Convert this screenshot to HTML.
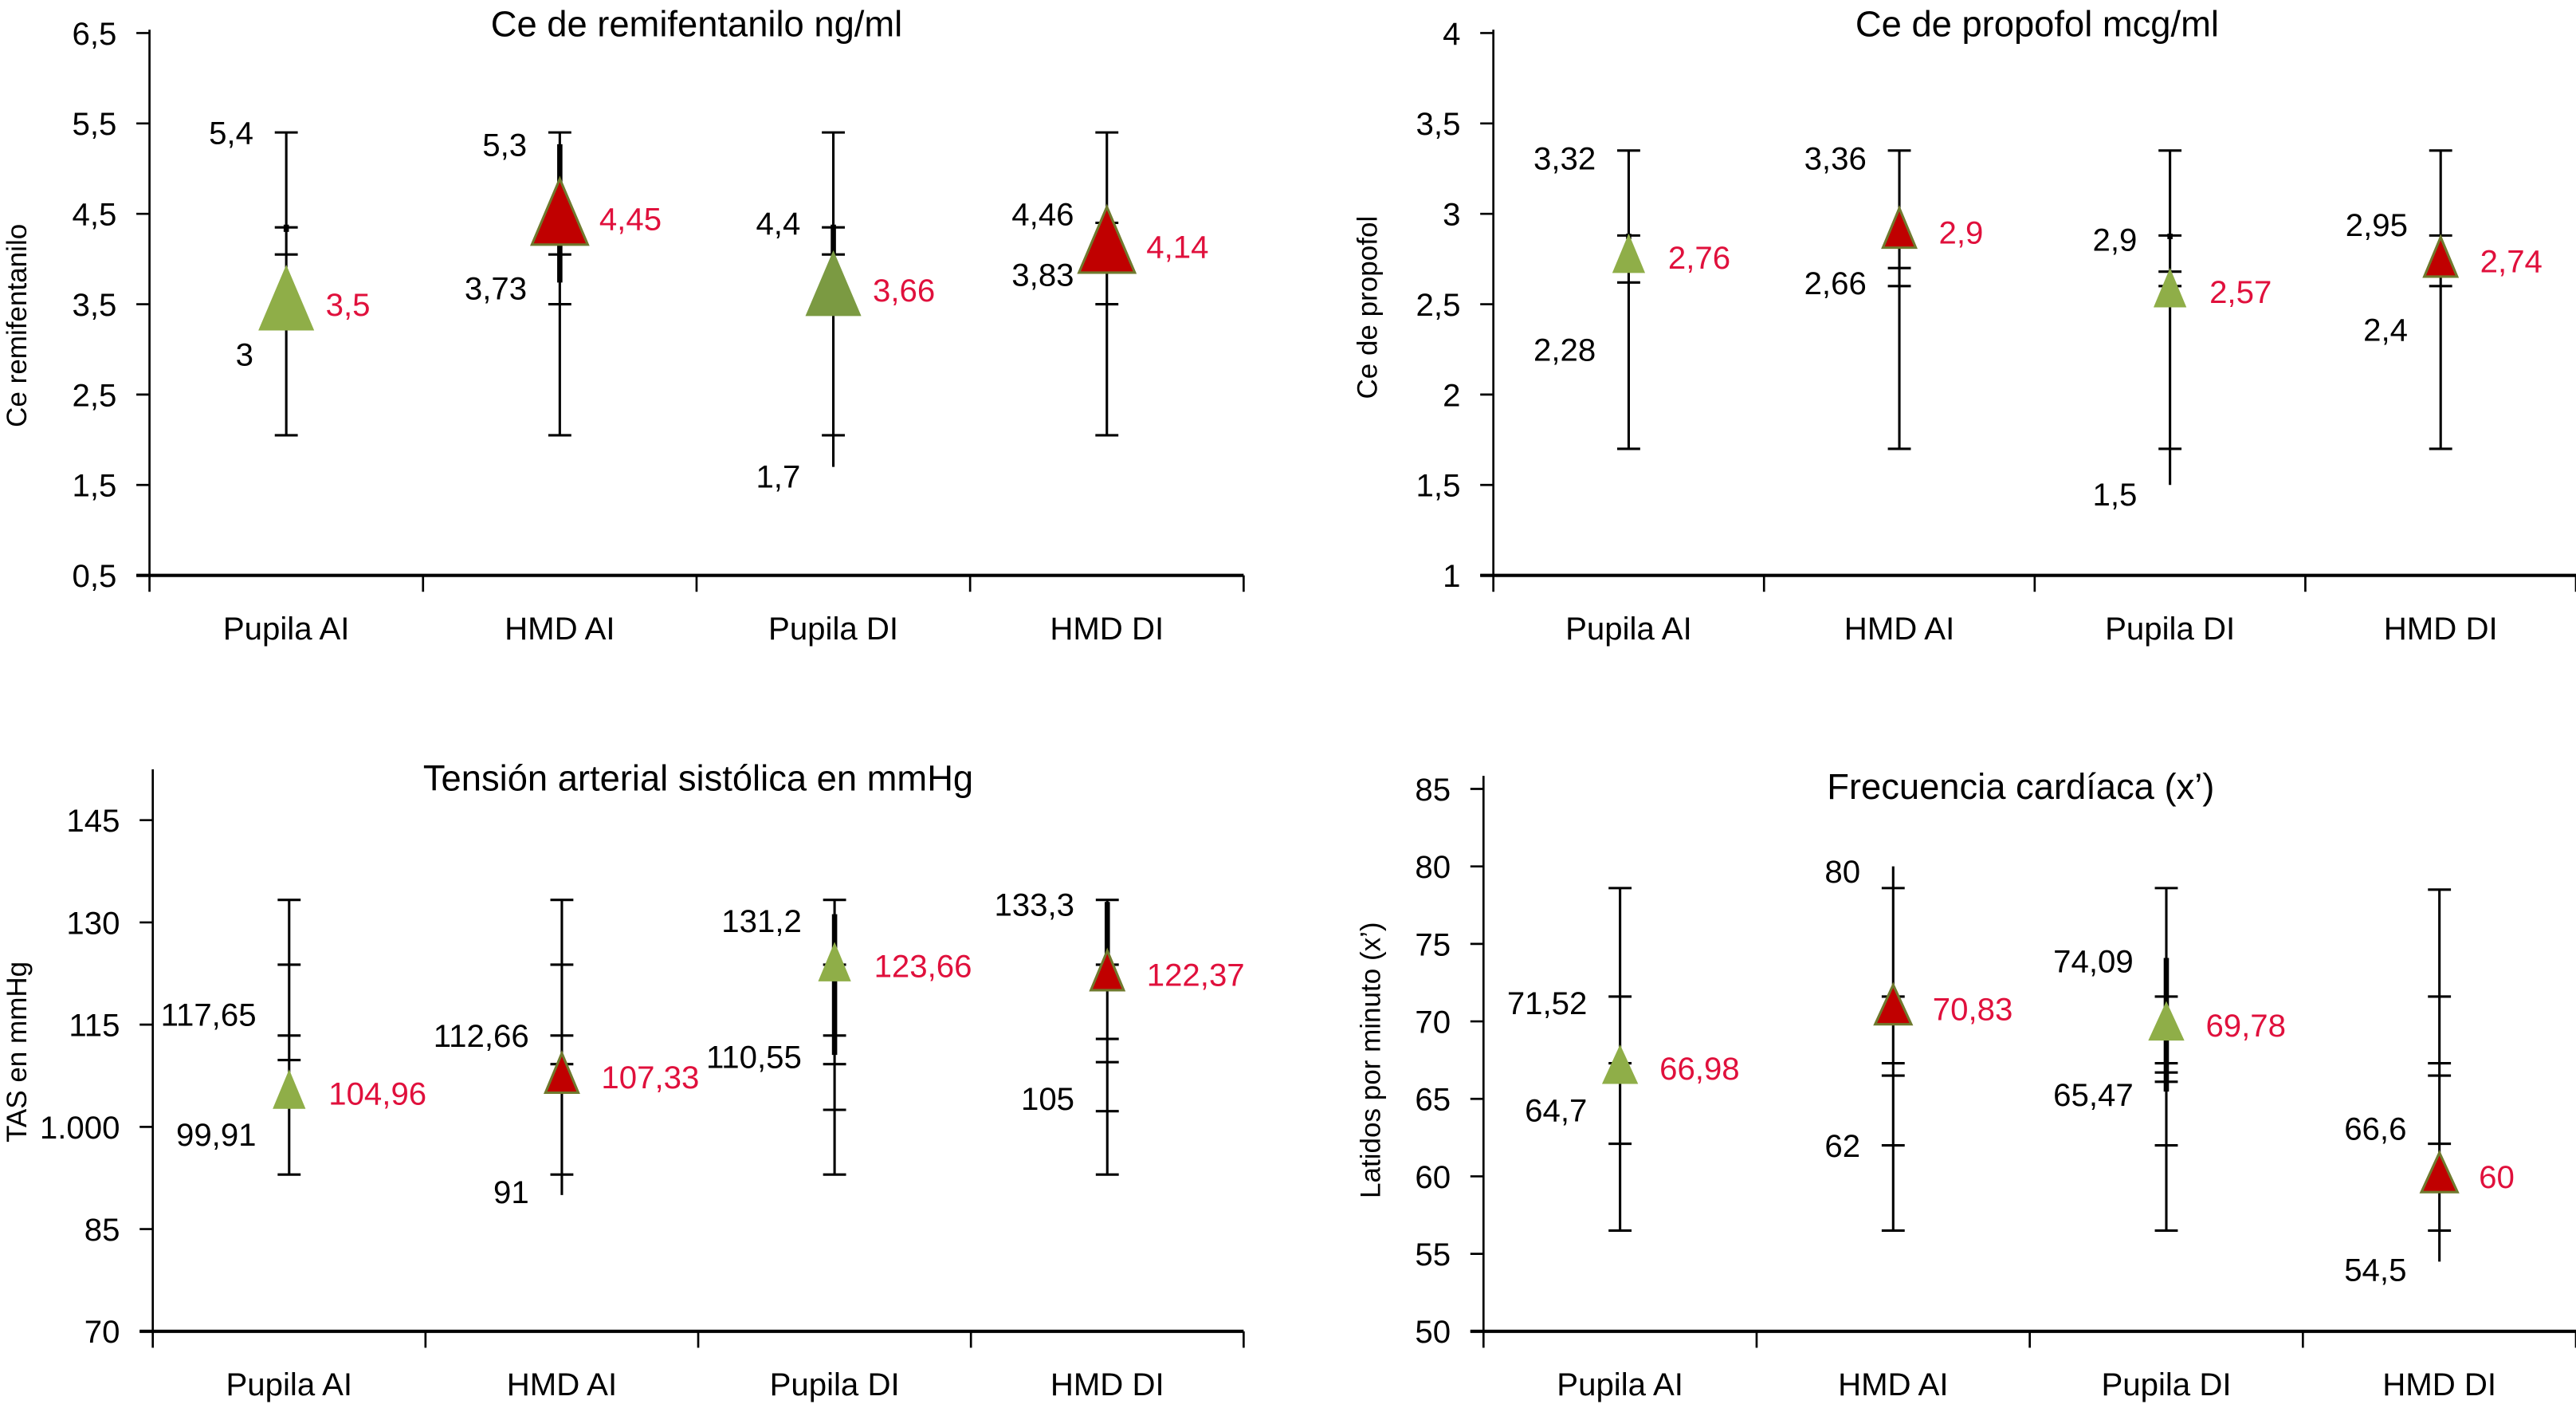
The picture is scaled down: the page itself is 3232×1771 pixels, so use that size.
<!DOCTYPE html>
<html><head><meta charset="utf-8"><style>
html,body{margin:0;padding:0;background:#fff;}
svg{display:block;}
text{font-family:"Liberation Sans",sans-serif;}
</style></head><body>
<svg id="chart" width="3232" height="1771" viewBox="0 0 1568 859" xmlns="http://www.w3.org/2000/svg"></svg>
<script>
const categories = ["Pupila AI","HMD AI","Pupila DI","HMD DI"];

// Panel 1: remifentanilo
const p1Means = [3.5, 4.45, 3.66, 4.14];
const p1CapHi = [5.4, 5.4, 5.4, 5.4];
const p1CapLo = [2.05, 2.05, 2.05, 2.05];
const p1LineHi = [5.4, 5.4, 5.4, 5.4];
const p1LineLo = [2.05, 2.05, 1.7, 2.05];
const p1Ticks = [[4.35, 4.05], [4.05, 3.5], [4.35, 4.05], [4.4, 3.5]];
const p1Thick = [[4.3, 4.38], [3.74, 5.27], [4.05, 4.38], null];
const p1LabelText = [["5,4", "3"], ["5,3", "3,73"], ["4,4", "1,7"], ["4,46", "3,83"]];
const p1LabelVal = [[5.4, 2.95], [5.27, 3.68], [4.4, 1.6], [4.5, 3.83]];
const p1MeanText = ["3,5", "4,45", "3,66", "4,14"];
const p1TickVals = [0.5, 1.5, 2.5, 3.5, 4.5, 5.5, 6.5];
const p1TickText = ["0,5", "1,5", "2,5", "3,5", "4,5", "5,5", "6,5"];

// Panel 2: propofol
const p2Means = [2.76, 2.9, 2.57, 2.74];
const p2CapHi = [3.35, 3.35, 3.35, 3.35];
const p2CapLo = [1.7, 1.7, 1.7, 1.7];
const p2LineHi = [3.35, 3.35, 3.35, 3.35];
const p2LineLo = [1.7, 1.7, 1.5, 1.7];
const p2Ticks = [[2.88, 2.62], [2.7, 2.6], [2.88, 2.68, 2.6], [2.88, 2.6]];
const p2Thick = [[2.86, 2.89], null, [2.86, 2.89], null];
const p2LabelText = [["3,32", "2,28"], ["3,36", "2,66"], ["2,9", "1,5"], ["2,95", "2,4"]];
const p2LabelVal = [[3.31, 2.25], [3.31, 2.62], [2.86, 1.45], [2.94, 2.36]];
const p2MeanText = ["2,76", "2,9", "2,57", "2,74"];
const p2TickVals = [1, 1.5, 2, 2.5, 3, 3.5, 4];
const p2TickText = ["1", "1,5", "2", "2,5", "3", "3,5", "4"];

// Panel 3: TAS
const p3Means = [104.96, 107.33, 123.66, 122.37];
const p3CapHi = [133.3, 133.3, 133.3, 133.3];
const p3CapLo = [93, 93, 93, 93];
const p3LineHi = [133.3, 133.3, 133.3, 133.3];
const p3LineLo = [93, 90, 93, 93];
const p3Ticks = [[123.8, 113.4, 109.8], [123.8, 113.4, 109.2], [123.8, 113.4, 109.2, 102.5], [123.8, 112.9, 109.5, 102.3]];
const p3Thick = [null, null, [110.55, 131.2], [122, 133]];
const p3LabelText = [["117,65", "99,91"], ["112,66", "91"], ["131,2", "110,55"], ["133,3", "105"]];
const p3LabelVal = [[116.5, 98.9], [113.4, 90.5], [130.3, 110.3], [132.7, 104.2]];
const p3MeanText = ["104,96", "107,33", "123,66", "122,37"];
const p3TickVals = [70, 85, 100, 115, 130, 145];
const p3TickText = ["70", "85", "1.000", "115", "130", "145"];

// Panel 4: frecuencia cardiaca
const p4Means = [66.98, 70.83, 69.78, 60];
const p4CapHi = [78.6, 78.6, 78.6, 78.5];
const p4CapLo = [56.5, 56.5, 56.5, 56.5];
const p4LineHi = [78.6, 80, 78.6, 78.5];
const p4LineLo = [56.5, 56.5, 56.5, 54.5];
const p4Ticks = [[71.6, 67.3, 62.1], [71.6, 67.3, 66.5, 62], [71.6, 67.3, 66.7, 66.1, 62], [71.6, 67.3, 66.5, 62.1]];
const p4Thick = [null, null, [65.47, 74.09], null];
const p4LabelText = [["71,52", "64,7"], ["80", "62"], ["74,09", "65,47"], ["66,6", "54,5"]];
const p4LabelVal = [[71.2, 64.3], [79.7, 62], [73.9, 65.3], [63.1, 54]];
const p4MeanText = ["66,98", "70,83", "69,78", "60"];
const p4TickVals = [50, 55, 60, 65, 70, 75, 80, 85];
const p4TickText = ["50", "55", "60", "65", "70", "75", "80", "85"];

const svg = document.getElementById('chart');
const NS = "http://www.w3.org/2000/svg";
function mk(tag, attrs, parent){const e=document.createElementNS(NS,tag);for(const k in attrs)e.setAttribute(k,attrs[k]);(parent||svg).appendChild(e);return e;}

function panel(cfg){
  const g = mk('g',{});
  
  
  const y = v => cfg.y0 - (v - cfg.vmin) * cfg.k;
  const step = (cfg.x1 - cfg.x0) / categories.length;
  const cx = i => cfg.x0 + step * (i + 0.5);
  const t = mk('text',{x:cfg.tx,y:cfg.ty,'font-size':22,'text-anchor':'middle',fill:'#000'},g);
  t.textContent = cfg.title;
  
  
  const yt = mk('text',{x:0,y:0,'font-size':17,'text-anchor':'middle',fill:'#000',transform:`translate(${cfg.ytx},${cfg.yty}) rotate(-90)`},g);
  yt.textContent = cfg.ytitle;
  
  
  const ya = mk('line',{x1:cfg.x0,x2:cfg.x0,y1:cfg.ytop,y2:cfg.y0,stroke:'#000','stroke-width':1.3},g);
  
  
  const xa = mk('line',{x1:cfg.x0-8,x2:cfg.x1,y1:cfg.y0,y2:cfg.y0,stroke:'#000','stroke-width':2},g);
  
  
  cfg.tickVals.forEach((v,i)=>{
    mk('line',{x1:cfg.x0-8,x2:cfg.x0,y1:y(v),y2:y(v),stroke:'#000','stroke-width':1.3},g);
    const tl = mk('text',{x:cfg.x0-20,y:y(v)+7,'font-size':19.5,'text-anchor':'end',fill:'#000'},g);
    tl.textContent = cfg.tickText[i];
    
    
  });
  for(let i=0;i<=categories.length;i++){
    const bx = cfg.x0 + step*i;
    mk('line',{x1:bx,x2:bx,y1:cfg.y0,y2:cfg.y0+10,stroke:'#000','stroke-width':1.3},g);
  }
  categories.forEach((c,i)=>{
    const cl = mk('text',{x:cx(i),y:cfg.y0+39,'font-size':19.5,'text-anchor':'middle',fill:'#000'},g);
    cl.textContent = c;
    
    
    const x = cx(i);
    const eb = mk('g',{},g);
    
    
    mk('line',{x1:x,x2:x,y1:y(cfg.lineHi[i]),y2:y(cfg.lineLo[i]),stroke:'#000','stroke-width':1.5},eb);
    mk('line',{x1:x-7,x2:x+7,y1:y(cfg.capHi[i]),y2:y(cfg.capHi[i]),stroke:'#000','stroke-width':1.5},eb);
    mk('line',{x1:x-7,x2:x+7,y1:y(cfg.capLo[i]),y2:y(cfg.capLo[i]),stroke:'#000','stroke-width':1.5},eb);
    cfg.ticks[i].forEach(v=>mk('line',{x1:x-7,x2:x+7,y1:y(v),y2:y(v),stroke:'#000','stroke-width':1.5},eb));
    if(cfg.thick[i]) mk('line',{x1:x,x2:x,y1:y(cfg.thick[i][1]),y2:y(cfg.thick[i][0]),stroke:'#000','stroke-width':3.2},eb);
    const red = (i%2===1);
    const my = y(cfg.means[i]);
    const w = cfg.tw, h = cfg.th;
    const tri = mk('polygon',{points:`${x},${my-h*0.6} ${x-w/2},${my+h*0.4} ${x+w/2},${my+h*0.4}`,
      fill: red ? '#c00000' : (i===2 && cfg.name==='remifentanilo-panel' ? '#7b9a42' : '#8fae48'),
      stroke: red ? '#6f7a2e' : 'none','stroke-width':red?1.5:0},g);
    
    
    const mt = mk('text',{x:x+cfg.rdx,y:y(cfg.means[i])+7,'font-size':19.5,fill:'#e0103c'},g);
    mt.textContent = cfg.meanText[i];
    
    
    cfg.labelText[i].forEach((s,j)=>{
      const lt = mk('text',{x:x-20,y:y(cfg.labelVal[i][j])+7,'font-size':19.5,'text-anchor':'end',fill:'#000'},g);
      lt.textContent = s;
      
      
    });
  });
}

panel({name:'remifentanilo-panel',title:'Ce de remifentanilo ng/ml',tx:424,ty:22,ytitle:'Ce remifentanilo',ytx:16,yty:198,
  x0:91,x1:757,y0:350,ytop:18,vmin:0.5,k:55,tw:34,th:40,rdx:24,
  means:p1Means,capHi:p1CapHi,capLo:p1CapLo,lineHi:p1LineHi,lineLo:p1LineLo,ticks:p1Ticks,thick:p1Thick,
  labelText:p1LabelText,labelVal:p1LabelVal,meanText:p1MeanText,tickVals:p1TickVals,tickText:p1TickText});
panel({name:'propofol-panel',title:'Ce de propofol mcg/ml',tx:1240,ty:22,ytitle:'Ce de propofol',ytx:838,yty:187,
  x0:909,x1:1568,y0:350,ytop:18,vmin:1,k:110,tw:20,th:24,rdx:24,
  means:p2Means,capHi:p2CapHi,capLo:p2CapLo,lineHi:p2LineHi,lineLo:p2LineLo,ticks:p2Ticks,thick:p2Thick,
  labelText:p2LabelText,labelVal:p2LabelVal,meanText:p2MeanText,tickVals:p2TickVals,tickText:p2TickText});
panel({name:'tas-panel',title:'Tensión arterial sistólica en mmHg',tx:425,ty:481,ytitle:'TAS en mmHg',ytx:16,yty:640,
  x0:93,x1:757,y0:810,ytop:468,vmin:70,k:4.147,tw:20,th:24,rdx:24,
  means:p3Means,capHi:p3CapHi,capLo:p3CapLo,lineHi:p3LineHi,lineLo:p3LineLo,ticks:p3Ticks,thick:p3Thick,
  labelText:p3LabelText,labelVal:p3LabelVal,meanText:p3MeanText,tickVals:p3TickVals,tickText:p3TickText});
panel({name:'heart-rate-panel',title:'Frecuencia cardíaca (x’)',tx:1230,ty:486,ytitle:'Latidos por minuto (x’)',ytx:840,yty:645,
  x0:903,x1:1568,y0:810,ytop:472,vmin:50,k:9.43,tw:22,th:24,rdx:24,
  means:p4Means,capHi:p4CapHi,capLo:p4CapLo,lineHi:p4LineHi,lineLo:p4LineLo,ticks:p4Ticks,thick:p4Thick,
  labelText:p4LabelText,labelVal:p4LabelVal,meanText:p4MeanText,tickVals:p4TickVals,tickText:p4TickText});
</script>
</body></html>
